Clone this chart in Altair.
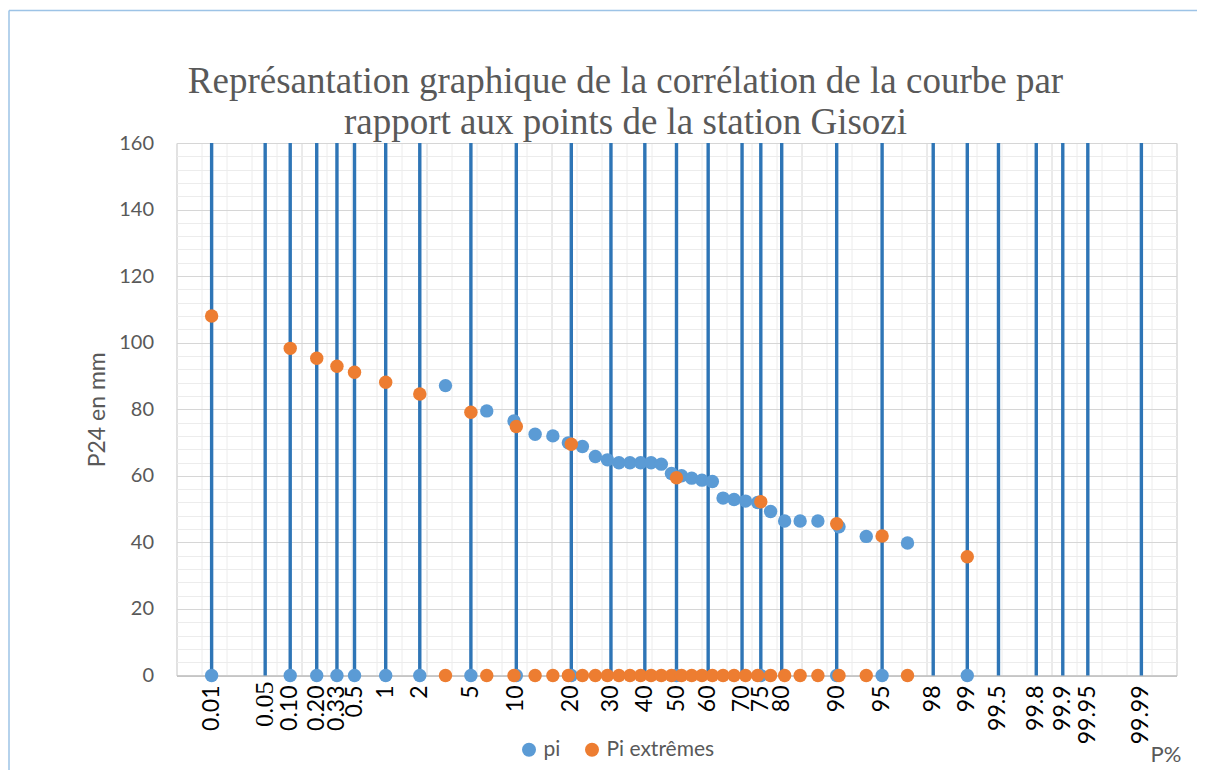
import altair as alt
import pandas as pd

# ---------------- data ----------------
title_lines = [
    "Représantation graphique de la corrélation de la courbe par",
    "rapport aux points de la station Gisozi",
]

# probability lines (percent) and their labels
line_p = [0.01, 0.05, 0.10, 0.20, 0.33, 0.5, 1, 2, 5, 10, 20, 30, 40, 50, 60,
          70, 75, 80, 90, 95, 98, 99, 99.5, 99.8, 99.9, 99.95, 99.99]
line_labels = ["0.01", "0.05", "0.10", "0.20", "0.33", "0.5", "1", "2", "5", "10",
               "20", "30", "40", "50", "60", "70", "75", "80", "90", "95", "98",
               "99", "99.5", "99.8", "99.9", "99.95", "99.99"]

# fitted extremes (Pi extrêmes)
fit_p = [0.01, 0.10, 0.20, 0.33, 0.5, 1, 2, 5, 10, 20, 50, 75, 90, 95, 99]
fit_values = [108.0, 98.3, 95.3, 92.9, 91.1, 88.1, 84.6, 79.1, 74.8, 69.5,
              59.4, 52.2, 45.6, 41.9, 35.7]
fit_base = [0, 0, 0, 0, 0, 0, 0, 0, 0, 0, 0, 0, 0, 0, 0]

# observed values (pi) with their empirical frequencies (percent)
obs_p = [3.23, 6.45, 9.68, 12.90, 16.13, 19.35, 22.58, 25.81, 29.03, 32.26,
         35.48, 38.71, 41.94, 45.16, 48.39, 51.61, 54.84, 58.06, 61.29, 64.52,
         67.74, 70.97, 74.19, 77.42, 80.65, 83.87, 87.10, 90.32, 93.55, 96.77]
obs_values = [87.1, 79.5, 76.5, 72.5, 72.0, 69.9, 68.8, 65.8, 64.8, 63.9,
              63.9, 63.9, 63.9, 63.5, 60.7, 60.0, 59.3, 58.7, 58.3, 53.3,
              52.9, 52.4, 52.0, 49.3, 46.4, 46.4, 46.4, 44.7, 41.8, 39.8]
obs_base = [0, 0, 0, 0, 0, 0, 0, 0, 0, 0, 0, 0, 0, 0, 0,
            0, 0, 0, 0, 0, 0, 0, 0, 0, 0, 0, 0, 0, 0, 0]

series_names = ["pi", "Pi extrêmes"]
series_colors = ["#5B9BD5", "#ED7D31"]

y_major = [0, 20, 40, 60, 80, 100, 120, 140, 160]
y_minor = [v for v in range(0, 161, 4) if v % 20 != 0]
x_major = [-4, -3, -2, -1, 0, 1, 2, 3, 4]
x_minor = [round(-4 + 0.2 * i, 1) for i in range(41) if i % 5 != 0]

# ---------------- layout ----------------
PLOT_W, PLOT_H = 1000, 532.5
GRID_MAJOR = "#d6d6d6"
GRID_MINOR = "#ececec"
TEXT_GRAY = "#595959"
BORDER = "#9DC3E6"

lines_df = pd.DataFrame({"p": line_p, "label": line_labels})
blue_df = pd.DataFrame({"p": obs_p + fit_p, "value": obs_values + fit_base, "series": "pi"})
orange_df = pd.DataFrame({"p": fit_p + obs_p, "value": fit_values + obs_base,
                          "series": "Pi extrêmes"})
frame_df = pd.DataFrame({"k": [0]})

zcalc = "quantileNormal(datum.p / 100)"
xscale = alt.Scale(domain=[-4, 4], nice=False, zero=False)
yscale = alt.Scale(domain=[0, 160], nice=False, zero=True)
color = alt.Color(
    "series:N",
    scale=alt.Scale(domain=series_names, range=series_colors),
    legend=alt.Legend(
        orient="none", legendX=342, legendY=596, direction="horizontal",
        title=None, symbolType="circle", symbolSize=196, symbolStrokeWidth=0,
        symbolOpacity=1, labelFont="Lato", labelFontSize=21, labelColor=TEXT_GRAY,
        labelOffset=4, columnPadding=21,
    ),
)

# chart-area frame (left and top edges)
frame_left = alt.Chart(frame_df).mark_rule(color=BORDER, strokeWidth=1.5).encode(
    x=alt.value(-167.5), y=alt.value(-132.5), y2=alt.value(PLOT_H + 120)
)
frame_top = alt.Chart(frame_df).mark_rule(color=BORDER, strokeWidth=1.5).encode(
    x=alt.value(-167.5), x2=alt.value(PLOT_W + 40), y=alt.value(-132.5)
)

rules = alt.Chart(lines_df).transform_calculate(z=zcalc).mark_rule(
    color="#2E75B6", strokeWidth=3.4
).encode(
    x=alt.X("z:Q", scale=xscale, axis=None),
    y=alt.Y(datum=0, type="quantitative", scale=yscale, axis=None),
    y2=alt.Y2(datum=160),
)

major_x_axis = alt.Axis(
    values=x_major, grid=True, gridColor=GRID_MAJOR, labels=False, ticks=False,
    domain=True, domainColor="#bfbfbf", domainWidth=1.3, orient="bottom",
    title="P%", titleFont="Lato", titleFontSize=22, titleFontWeight="normal",
    titleColor=TEXT_GRAY, titleX=989, titleY=79, titleAlign="center",
    titleBaseline="middle", titleAngle=0,
)
major_y_axis = alt.Axis(
    values=y_major, grid=True, gridColor=GRID_MAJOR, ticks=False, domain=False,
    labelFont="Lato", labelFontSize=20, labelColor=TEXT_GRAY, labelPadding=23,
    orient="left", title="P24 en mm", titleFont="Lato", titleFontSize=23,
    titleFontWeight="normal", titleColor=TEXT_GRAY, titlePadding=9,
)
minor_x_axis = alt.Axis(values=x_minor, grid=True, gridColor=GRID_MINOR, labels=False,
                        ticks=False, domain=False, title=None, orient="bottom")
minor_y_axis = alt.Axis(values=y_minor, grid=True, gridColor=GRID_MINOR, labels=False,
                        ticks=False, domain=False, title=None, orient="left")

blue = alt.Chart(blue_df).transform_calculate(z=zcalc).mark_point(
    filled=True, size=180, opacity=1, strokeWidth=0
).encode(
    x=alt.X("z:Q", scale=xscale, axis=major_x_axis),
    y=alt.Y("value:Q", scale=yscale, axis=major_y_axis),
    color=color,
)

orange = alt.Chart(orange_df).transform_calculate(z=zcalc).mark_point(
    filled=True, size=180, opacity=1, strokeWidth=0
).encode(
    x=alt.X("z:Q", scale=xscale, axis=minor_x_axis),
    y=alt.Y("value:Q", scale=yscale, axis=minor_y_axis),
    color=color,
)

labels = alt.Chart(lines_df).transform_calculate(z=zcalc).transform_filter(
    "datum.label != '0.05'"
).mark_text(
    angle=270, align="right", baseline="middle", font="Lato", fontSize=23, color="#000000"
).encode(
    x=alt.X("z:Q", scale=xscale, axis=None),
    y=alt.value(PLOT_H + 10),
    text="label:N",
)

label_005 = alt.Chart(lines_df).transform_calculate(z=zcalc).transform_filter(
    "datum.label == '0.05'"
).mark_text(
    angle=270, align="right", baseline="middle", font="Liberation Serif", fontSize=26,
    color="#000000"
).encode(
    x=alt.X("z:Q", scale=xscale, axis=None),
    y=alt.value(PLOT_H + 6),
    text="label:N",
)

chart = alt.layer(frame_left, frame_top, rules, blue, orange, labels, label_005).resolve_axis(
    x="independent", y="independent"
).properties(
    width=PLOT_W,
    height=PLOT_H,
    title=alt.TitleParams(
        text=title_lines, font="Liberation Serif", fontSize=37, fontWeight="normal",
        color=TEXT_GRAY, lineHeight=41, anchor="middle", frame="group", dx=-51,
        offset=8, dy=140,
    ),
    padding={"left": 168.5, "top": 135, "right": 20, "bottom": 94},
    autosize=alt.AutoSizeParams(type="none"),
).configure_view(stroke=None).configure(background="white")

chart.save("out.html", embed_options={"renderer": "svg", "actions": False})
